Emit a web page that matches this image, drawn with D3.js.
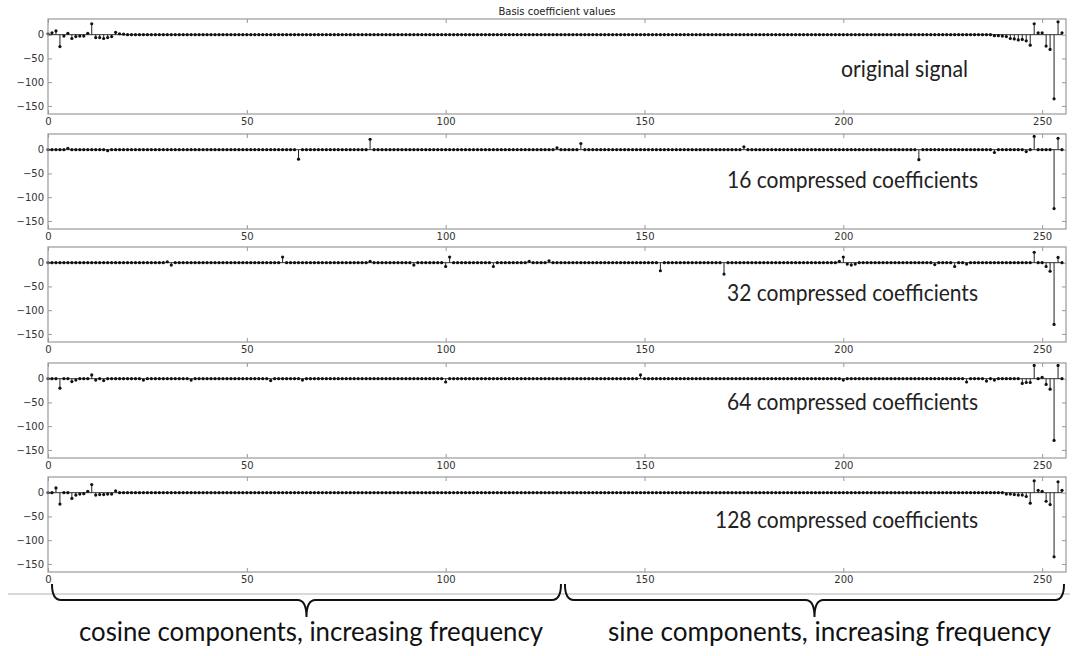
<!DOCTYPE html>
<html>
  <head>
    <meta charset="utf-8" />
    <script src="https://cdn.jsdelivr.net/npm/d3@7"></script>
    <style>
      body { margin: 0; background: #fff; }
    </style>
  </head>
  <body>
    <svg id="chart" width="1078" height="656"></svg>
    <script>
      // number of basis coefficients (0..127 cosine, 128..255 sine)
      var N = 256;
      var xTicks = [0, 50, 100, 150, 200, 250];
      var yTicks = [0, -50, -100, -150];
      var panelLabels = [
        "original signal",
        "16 compressed coefficients",
        "32 compressed coefficients",
        "64 compressed coefficients",
        "128 compressed coefficients",
      ];
      var braceLabels = [
        "cosine components, increasing frequency",
        "sine components, increasing frequency",
      ];

      // non-zero coefficients as [index, value]; all others are 0
      var original = [
        [0, 2], [1, 4], [2, 8], [3, -25], [4, -3], [5, 3], [6, -8], [7, -4],
        [8, -3], [9, -3], [10, 3], [11, 23], [12, -6], [13, -6], [14, -8],
        [15, -6], [16, -4], [17, 5], [18, 2], [19, 1], [238, -2], [239, -2],
        [240, -3], [241, -4], [242, -8], [243, -9], [244, -11], [245, -10],
        [246, -13], [247, -22], [248, 23], [249, 4], [250, 4], [251, -24],
        [252, -31], [253, -135], [254, 27], [255, 4],
      ];
      var comp16 = [
        [5, 3], [15, -2], [63, -20], [81, 22], [128, 4], [134, 13],
        [175, 6], [219, -21], [238, -6], [246, -4], [248, 28],
        [253, -124], [254, 24],
      ];
      var comp32 = [
        [30, 2], [31, -5], [59, 12], [81, 3], [92, -5], [100, -8],
        [101, 12], [112, -8], [121, 3], [126, 4], [154, -17], [170, -24],
        [199, 3], [200, 12], [201, -3], [202, -5], [203, -3], [223, -4],
        [228, -8], [231, -3], [248, 22], [251, -8], [252, -18],
        [253, -130], [254, 11],
      ];
      var comp64 = [
        [3, -20], [6, -6], [7, -3], [11, 8], [12, -3], [14, -4], [24, -3],
        [36, -3], [56, -4], [64, -3], [100, -7], [149, 8], [200, -3],
        [231, -7], [236, -5], [238, -3], [245, -10], [246, -8], [247, -8],
        [248, 28], [250, 3], [251, -12], [252, -22], [253, -130], [254, 28],
      ];
      var comp128 = [
        [2, 10], [3, -24], [6, -12], [7, -5], [8, -3], [9, -2], [10, 3],
        [11, 17], [12, -5], [13, -4], [14, -4], [15, -3], [16, -3], [17, 4],
        [241, -3], [242, -3], [243, -4], [244, -5], [245, -5], [246, -8],
        [247, -22], [248, 25], [249, 5], [250, 3], [251, -18], [252, -25],
        [253, -135], [254, 23], [255, 5],
      ];
      var panelData = [original, comp16, comp32, comp64, comp128];

      // layout
      var left = 48, right = 1066, panelH = 95;
      var panelTops = [19, 134, 247, 363, 477];
      var labelPos = [
        { x: 841, y: 77, w: 127 },
        { x: 727, y: 188, w: 251 },
        { x: 727, y: 301, w: 251 },
        { x: 727, y: 410, w: 251 },
        { x: 715, y: 528, w: 263 },
      ];

      var svg = d3.select("#chart");
      var xScale = d3.scaleLinear().domain([0, N]).range([left, right]);

      svg
        .append("text")
        .attr("x", (left + right) / 2)
        .attr("y", 15)
        .attr("text-anchor", "middle")
        .style("font-family", "DejaVu Sans")
        .style("font-size", "10px")
        .style("fill", "#222")
        .text("Basis coefficient values");

      panelData.forEach(function (pairs, p) {
        var top = panelTops[p];
        var yScale = d3
          .scaleLinear()
          .domain([-167, 33])
          .range([top + panelH, top]);

        var lookup = new Map(pairs);
        var series = d3.range(N).map(function (i) {
          return { i: i, v: lookup.has(i) ? lookup.get(i) : 0 };
        });

        var g = svg.append("g");

        // axes with inward ticks on all four sides
        var yAxis = d3.axisLeft(yScale).tickValues(yTicks).tickSize(-4).tickPadding(4);
        var yAxisR = d3.axisRight(yScale).tickValues(yTicks).tickSize(-4).tickFormat("");
        var xAxis = d3.axisBottom(xScale).tickValues(xTicks).tickSize(-4).tickPadding(4);
        var xAxisT = d3.axisTop(xScale).tickValues(xTicks).tickSize(-4).tickFormat("");

        function styleAxis(sel) {
          sel.select(".domain").remove();
          sel.selectAll("line").style("stroke", "#999");
          sel
            .selectAll("text")
            .style("font-family", "DejaVu Sans")
            .style("font-size", "10px")
            .style("fill", "#333");
        }

        g.append("g").attr("transform", "translate(" + left + ",0)").call(yAxis).call(styleAxis);
        g.append("g").attr("transform", "translate(" + right + ",0)").call(yAxisR).call(styleAxis);
        g.append("g").attr("transform", "translate(0," + (top + panelH) + ")").call(xAxis).call(styleAxis);
        g.append("g").attr("transform", "translate(0," + top + ")").call(xAxisT).call(styleAxis);

        // baseline
        g.append("line")
          .attr("x1", xScale(0))
          .attr("x2", xScale(N - 1))
          .attr("y1", yScale(0))
          .attr("y2", yScale(0))
          .style("stroke", "#333")
          .style("stroke-width", 1);

        // stems
        g.selectAll(".stem")
          .data(series.filter(function (d) { return d.v !== 0; }))
          .enter()
          .append("line")
          .attr("class", "stem")
          .attr("x1", function (d) { return xScale(d.i); })
          .attr("x2", function (d) { return xScale(d.i); })
          .attr("y1", yScale(0))
          .attr("y2", function (d) { return yScale(d.v); })
          .style("stroke", "#222")
          .style("stroke-width", 1);

        // markers
        g.selectAll(".dot")
          .data(series)
          .enter()
          .append("circle")
          .attr("class", "dot")
          .attr("cx", function (d) { return xScale(d.i); })
          .attr("cy", function (d) { return yScale(d.v); })
          .attr("r", 1.6)
          .style("fill", "#111");

        // frame
        g.append("rect")
          .attr("x", left)
          .attr("y", top)
          .attr("width", right - left)
          .attr("height", panelH)
          .style("fill", "none")
          .style("stroke", "#999")
          .style("stroke-width", 1.2);

        var lp = labelPos[p];
        g.append("text")
          .attr("x", lp.x)
          .attr("y", lp.y)
          .attr("textLength", lp.w)
          .attr("lengthAdjust", "spacingAndGlyphs")
          .style("font-family", "Lato")
          .style("font-size", "23px")
          .style("fill", "#222")
          .text(panelLabels[p]);
      });

      // light separator line
      svg.append("line")
        .attr("x1", 8).attr("x2", 1070)
        .attr("y1", 594).attr("y2", 594)
        .style("stroke", "#ccc")
        .style("stroke-width", 1.5);

      // braces under the cosine and sine halves
      function bracePath(x0, x1) {
        var cx = (x0 + x1) / 2, yTop = 584, yMid = 600, yTip = 617, r = 9;
        return "M" + x0 + "," + yTop +
          "Q" + x0 + "," + yMid + " " + (x0 + r) + "," + yMid +
          "L" + (cx - r) + "," + yMid +
          "Q" + cx + "," + yMid + " " + cx + "," + yTip +
          "Q" + cx + "," + yMid + " " + (cx + r) + "," + yMid +
          "L" + (x1 - r) + "," + yMid +
          "Q" + x1 + "," + yMid + " " + x1 + "," + yTop;
      }
      var braces = [
        { a: 1, b: 129, tx: 79, tw: 464 },
        { a: 130, b: 255.5, tx: 608, tw: 443 },
      ];
      braces.forEach(function (br, k) {
        svg.append("path")
          .attr("d", bracePath(xScale(br.a), xScale(br.b)))
          .style("fill", "none")
          .style("stroke", "#111")
          .style("stroke-width", 2);
        svg.append("text")
          .attr("x", br.tx)
          .attr("y", 641)
          .attr("textLength", br.tw)
          .attr("lengthAdjust", "spacingAndGlyphs")
          .style("font-family", "Lato")
          .style("font-size", "27px")
          .style("fill", "#111")
          .text(braceLabels[k]);
      });
    </script>
  </body>
</html>
